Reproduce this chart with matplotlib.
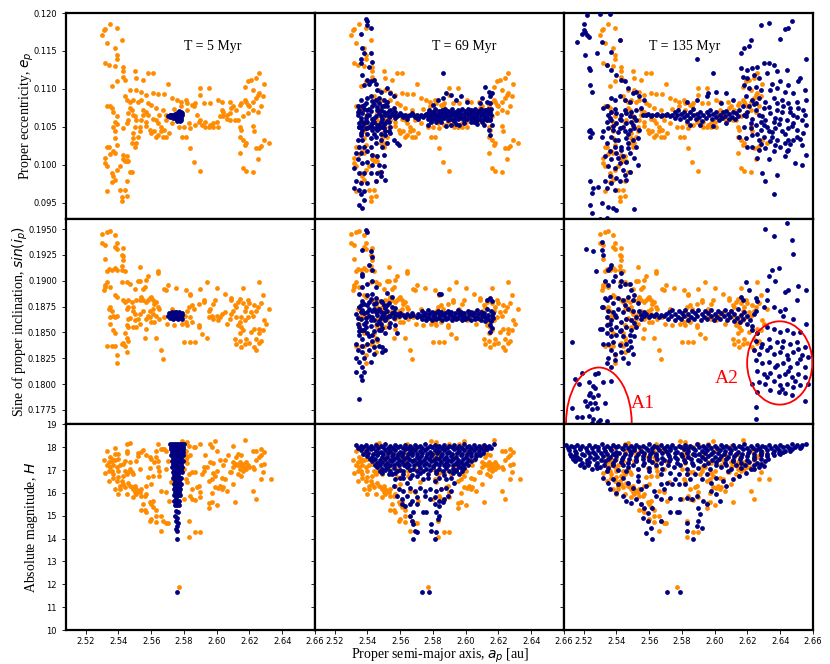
import matplotlib
matplotlib.use('Agg')
import matplotlib.pyplot as plt
from matplotlib.patches import Ellipse

# column titles
times = ['T = 5 Myr', 'T = 69 Myr', 'T = 135 Myr']

# ---------------- original family (orange), same in every column ----------------
orange_ecc = [
    (2.530, 0.1171), (2.531, 0.1177), (2.532, 0.1179), (2.535, 0.1186), (2.539, 0.1180), (2.533, 0.1160),
    (2.532, 0.1134), (2.534, 0.1132), (2.538, 0.1130), (2.539, 0.1145), (2.539, 0.1140), (2.538, 0.1154),
    (2.542, 0.1165), (2.543, 0.1129), (2.543, 0.1123), (2.543, 0.1116), (2.544, 0.1112), (2.536, 0.1104),
    (2.539, 0.1110), (2.550, 0.1123), (2.551, 0.1114), (2.555, 0.1112), (2.558, 0.1121), (2.561, 0.1121),
    (2.570, 0.1107), (2.533, 0.1078), (2.535, 0.1077), (2.536, 0.1075), (2.537, 0.1070), (2.539, 0.1064),
    (2.538, 0.1057), (2.539, 0.1054), (2.537, 0.1050), (2.538, 0.1044), (2.538, 0.1035), (2.539, 0.1026),
    (2.537, 0.1018), (2.538, 0.1016), (2.535, 0.1014), (2.534, 0.1024), (2.533, 0.1023), (2.532, 0.1009),
    (2.532, 0.1002), (2.533, 0.0998), (2.536, 0.0989), (2.537, 0.0985), (2.538, 0.0980), (2.536, 0.0977),
    (2.533, 0.0966), (2.539, 0.0993), (2.541, 0.0998), (2.543, 0.1007), (2.543, 0.1013), (2.545, 0.1011),
    (2.544, 0.1005), (2.545, 0.1005), (2.546, 0.1005), (2.547, 0.0990), (2.545, 0.0978), (2.548, 0.0991),
    (2.541, 0.0967), (2.544, 0.0967), (2.542, 0.0958), (2.542, 0.0952), (2.545, 0.0959), (2.543, 0.1048),
    (2.545, 0.1055), (2.546, 0.1059), (2.546, 0.1068), (2.547, 0.1075), (2.548, 0.1072), (2.549, 0.1066),
    (2.550, 0.1064), (2.551, 0.1059), (2.550, 0.1050), (2.549, 0.1042), (2.549, 0.1035), (2.548, 0.1029),
    (2.550, 0.1024), (2.551, 0.1029), (2.552, 0.1037), (2.553, 0.1044), (2.553, 0.1050), (2.554, 0.1059),
    (2.555, 0.1066), (2.555, 0.1072), (2.557, 0.1070), (2.558, 0.1066), (2.557, 0.1057), (2.557, 0.1051),
    (2.559, 0.1046), (2.560, 0.1042), (2.562, 0.1044), (2.563, 0.1037), (2.564, 0.1039), (2.561, 0.1061),
    (2.563, 0.1059), (2.564, 0.1055), (2.566, 0.1050), (2.565, 0.1066), (2.567, 0.1072), (2.569, 0.1066),
    (2.569, 0.1059), (2.568, 0.1046), (2.567, 0.1037), (2.566, 0.1044), (2.563, 0.1075), (2.560, 0.1079),
    (2.558, 0.1081), (2.554, 0.1086), (2.552, 0.1083), (2.549, 0.1086), (2.547, 0.1083), (2.545, 0.1086),
    (2.544, 0.1090), (2.547, 0.1098), (2.551, 0.1099), (2.554, 0.1096), (2.557, 0.1092), (2.561, 0.1094),
    (2.564, 0.1093), (2.568, 0.1093), (2.573, 0.1088), (2.576, 0.1086), (2.578, 0.1083), (2.581, 0.1086),
    (2.582, 0.1081), (2.585, 0.1079), (2.587, 0.1081), (2.590, 0.1092), (2.592, 0.1081), (2.595, 0.1101),
    (2.596, 0.1082), (2.580, 0.1050), (2.583, 0.1055), (2.584, 0.1048), (2.587, 0.1053), (2.588, 0.1066),
    (2.590, 0.1059), (2.593, 0.1057), (2.596, 0.1053), (2.598, 0.1055), (2.600, 0.1057), (2.602, 0.1064),
    (2.603, 0.1072), (2.604, 0.1070), (2.606, 0.1066), (2.608, 0.1068), (2.609, 0.1075), (2.610, 0.1077),
    (2.612, 0.1072), (2.614, 0.1079), (2.615, 0.1081), (2.617, 0.1086), (2.618, 0.1083), (2.619, 0.1079),
    (2.620, 0.1077), (2.622, 0.1083), (2.624, 0.1088), (2.625, 0.1092), (2.626, 0.1094), (2.628, 0.1090),
    (2.627, 0.1077), (2.625, 0.1070), (2.622, 0.1072), (2.619, 0.1068), (2.616, 0.1064), (2.613, 0.1059),
    (2.614, 0.1050), (2.615, 0.1046), (2.611, 0.1059), (2.608, 0.1059), (2.606, 0.1061), (2.604, 0.1064),
    (2.601, 0.1050), (2.598, 0.1050), (2.595, 0.1050), (2.593, 0.1050), (2.591, 0.1053), (2.589, 0.1056),
    (2.581, 0.1037), (2.579, 0.1037), (2.584, 0.1022), (2.586, 0.1004), (2.590, 0.0992), (2.614, 0.1037),
    (2.616, 0.1033), (2.617, 0.1026), (2.618, 0.1029), (2.614, 0.1015), (2.616, 0.0996), (2.618, 0.0992),
    (2.622, 0.0991), (2.625, 0.1007), (2.624, 0.1022), (2.626, 0.1022), (2.627, 0.1025), (2.629, 0.1033),
    (2.632, 0.1029), (2.622, 0.1051), (2.623, 0.1044), (2.617, 0.1103), (2.619, 0.1110), (2.621, 0.1112),
    (2.622, 0.1098), (2.624, 0.1114), (2.626, 0.1121), (2.629, 0.1107), (2.608, 0.1083), (2.601, 0.1086),
    (2.603, 0.1083), (2.590, 0.1101), (2.586, 0.1077), (2.582, 0.1072), (2.578, 0.1077), (2.574, 0.1073),
    (2.573, 0.1055), (2.571, 0.1042), (2.569, 0.1037), (2.577, 0.1050),
]

orange_sin = [
    (2.530, 0.1945), (2.533, 0.1947), (2.535, 0.1948), (2.538, 0.1944), (2.530, 0.1936), (2.532, 0.1935),
    (2.539, 0.1936), (2.538, 0.1933), (2.539, 0.1931), (2.543, 0.1932), (2.542, 0.1925), (2.543, 0.1924),
    (2.543, 0.1920), (2.532, 0.1921), (2.538, 0.1912), (2.533, 0.1909), (2.534, 0.1911), (2.536, 0.1910),
    (2.539, 0.1910), (2.542, 0.1910), (2.544, 0.1909), (2.542, 0.1914), (2.553, 0.1913), (2.564, 0.1909),
    (2.564, 0.1907), (2.558, 0.1905), (2.557, 0.1901), (2.552, 0.1900), (2.553, 0.1900), (2.542, 0.1899),
    (2.545, 0.1899), (2.533, 0.1899), (2.532, 0.1896), (2.531, 0.1891), (2.532, 0.1894), (2.535, 0.1894),
    (2.538, 0.1886), (2.539, 0.1884), (2.555, 0.1892), (2.556, 0.1894), (2.550, 0.1892), (2.547, 0.1897),
    (2.569, 0.1891), (2.568, 0.1892), (2.570, 0.1896), (2.575, 0.1893), (2.581, 0.1891), (2.584, 0.1886),
    (2.584, 0.1887), (2.590, 0.1892), (2.594, 0.1899), (2.600, 0.1893), (2.605, 0.1887), (2.609, 0.1883),
    (2.609, 0.1881), (2.616, 0.1893), (2.626, 0.1899), (2.628, 0.1886), (2.623, 0.1876), (2.627, 0.1878),
    (2.632, 0.1873), (2.534, 0.1873), (2.535, 0.1875), (2.536, 0.1871), (2.537, 0.1866), (2.538, 0.1865),
    (2.539, 0.1866), (2.535, 0.1865), (2.535, 0.1858), (2.537, 0.1852), (2.538, 0.1849), (2.533, 0.1837),
    (2.536, 0.1837), (2.538, 0.1837), (2.539, 0.1828), (2.539, 0.1820), (2.542, 0.1839), (2.543, 0.1840),
    (2.544, 0.1837), (2.545, 0.1831), (2.546, 0.1842), (2.544, 0.1849), (2.545, 0.1845), (2.546, 0.1855),
    (2.545, 0.1857), (2.546, 0.1863), (2.547, 0.1864), (2.543, 0.1881), (2.544, 0.1879), (2.546, 0.1881),
    (2.546, 0.1875), (2.545, 0.1873), (2.548, 0.1879), (2.549, 0.1875), (2.550, 0.1868), (2.549, 0.1871),
    (2.551, 0.1881), (2.553, 0.1881), (2.554, 0.1884), (2.555, 0.1881), (2.557, 0.1879), (2.558, 0.1881),
    (2.559, 0.1883), (2.560, 0.1884), (2.561, 0.1881), (2.562, 0.1877), (2.563, 0.1879), (2.564, 0.1875),
    (2.565, 0.1873), (2.561, 0.1873), (2.559, 0.1871), (2.555, 0.1871), (2.553, 0.1868), (2.552, 0.1863),
    (2.550, 0.1862), (2.549, 0.1855), (2.551, 0.1855), (2.553, 0.1858), (2.557, 0.1863), (2.558, 0.1866),
    (2.559, 0.1865), (2.561, 0.1868), (2.563, 0.1866), (2.565, 0.1863), (2.562, 0.1860), (2.560, 0.1860),
    (2.557, 0.1853), (2.556, 0.1845), (2.563, 0.1845), (2.566, 0.1833), (2.567, 0.1824), (2.568, 0.1865),
    (2.5695, 0.1858), (2.573, 0.1873), (2.574, 0.1857), (2.579, 0.1858), (2.581, 0.1860), (2.5805, 0.1866),
    (2.582, 0.1871), (2.583, 0.1875), (2.585, 0.1876), (2.586, 0.1873), (2.584, 0.1865), (2.585, 0.1860),
    (2.582, 0.1857), (2.580, 0.1841), (2.584, 0.1841), (2.587, 0.1841), (2.591, 0.1848), (2.594, 0.1845),
    (2.589, 0.1857), (2.589, 0.1855), (2.589, 0.1877), (2.592, 0.1879), (2.592, 0.1881), (2.595, 0.1871),
    (2.596, 0.1873), (2.598, 0.1877), (2.599, 0.1881), (2.597, 0.1866), (2.595, 0.1865), (2.598, 0.1863),
    (2.600, 0.1866), (2.602, 0.1865), (2.601, 0.1862), (2.603, 0.1868), (2.605, 0.1870), (2.606, 0.1858),
    (2.608, 0.1863), (2.609, 0.1868), (2.610, 0.1871), (2.611, 0.1876), (2.612, 0.1875), (2.613, 0.1879),
    (2.614, 0.1882), (2.616, 0.1878), (2.617, 0.1871), (2.618, 0.1875), (2.619, 0.1881), (2.620, 0.1878),
    (2.621, 0.1870), (2.622, 0.1866), (2.624, 0.1871), (2.625, 0.1875), (2.619, 0.1865), (2.617, 0.1862),
    (2.615, 0.1865), (2.614, 0.1860), (2.613, 0.1857), (2.612, 0.1865), (2.615, 0.1855), (2.616, 0.1852),
    (2.614, 0.1849), (2.611, 0.1844), (2.612, 0.1839), (2.614, 0.1842), (2.615, 0.1836), (2.617, 0.1839),
    (2.618, 0.1844), (2.620, 0.1840), (2.621, 0.1850), (2.623, 0.1853), (2.624, 0.1844), (2.626, 0.1849),
    (2.623, 0.1836), (2.624, 0.1833), (2.626, 0.1840), (2.627, 0.1842), (2.629, 0.1862), (2.630, 0.1858),
    (2.626, 0.1853), (2.628, 0.1852),
]

orange_mag = [
    (2.533, 17.82), (2.538, 17.97), (2.545, 18.12), (2.547, 18.17), (2.545, 17.85), (2.545, 17.74),
    (2.538, 17.71), (2.540, 17.71), (2.535, 17.56), (2.536, 17.49), (2.531, 17.42), (2.534, 17.34),
    (2.536, 17.39), (2.538, 17.45), (2.540, 17.49), (2.533, 17.20), (2.535, 17.15), (2.537, 17.20),
    (2.539, 17.12), (2.532, 16.86), (2.534, 16.95), (2.536, 16.98), (2.537, 16.83), (2.540, 16.98),
    (2.541, 17.20), (2.543, 17.27), (2.544, 16.98), (2.545, 16.83), (2.543, 16.76), (2.546, 16.91),
    (2.547, 17.05), (2.548, 16.91), (2.549, 16.83), (2.547, 17.34), (2.544, 17.39), (2.534, 16.51),
    (2.537, 16.66), (2.539, 16.54), (2.540, 16.69), (2.542, 16.54), (2.543, 16.39), (2.541, 16.32),
    (2.544, 16.25), (2.546, 16.42), (2.547, 16.32), (2.548, 16.25), (2.549, 16.18), (2.550, 16.32),
    (2.551, 16.18), (2.552, 16.10), (2.553, 16.03), (2.554, 16.18), (2.550, 16.03), (2.551, 15.96),
    (2.549, 15.81), (2.554, 15.88), (2.545, 15.96), (2.540, 15.96), (2.541, 16.18), (2.538, 16.18),
    (2.556, 15.88), (2.557, 15.96), (2.555, 15.52), (2.559, 15.59), (2.560, 15.52), (2.561, 15.66),
    (2.554, 15.23), (2.556, 15.26), (2.557, 15.15), (2.561, 15.37), (2.563, 15.23), (2.559, 14.79),
    (2.560, 14.86), (2.563, 14.72), (2.563, 15.01), (2.566, 15.01), (2.567, 14.79), (2.570, 14.67),
    (2.566, 14.35), (2.569, 14.69), (2.571, 15.66), (2.566, 16.10), (2.569, 16.03), (2.560, 16.39),
    (2.557, 16.32), (2.558, 16.69), (2.561, 16.76), (2.565, 16.76), (2.565, 16.98), (2.564, 17.12),
    (2.562, 17.34), (2.564, 17.39), (2.563, 17.56), (2.559, 17.56), (2.560, 17.49), (2.557, 17.64),
    (2.554, 17.78), (2.555, 17.88), (2.552, 17.74), (2.552, 17.61), (2.551, 17.39), (2.553, 17.05),
    (2.559, 17.09), (2.563, 17.85), (2.564, 18.15), (2.566, 17.93), (2.567, 17.93), (2.569, 17.85),
    (2.568, 17.93), (2.572, 16.47), (2.569, 17.05), (2.570, 17.39),
    (2.579, 18.26), (2.582, 18.22), (2.583, 18.07), (2.581, 17.85), (2.5805, 17.64), (2.581, 17.49),
    (2.582, 17.56), (2.584, 17.64), (2.586, 18.00), (2.587, 18.03), (2.590, 18.12), (2.593, 17.64),
    (2.597, 18.00), (2.599, 18.26), (2.596, 18.12), (2.600, 17.85), (2.582, 17.30), (2.580, 17.05),
    (2.583, 16.83), (2.585, 16.91), (2.587, 16.91), (2.581, 16.61), (2.582, 16.47), (2.585, 16.18),
    (2.588, 16.25), (2.589, 16.28), (2.590, 16.03), (2.584, 15.88), (2.585, 15.74), (2.587, 15.69),
    (2.590, 15.84), (2.580, 15.74), (2.583, 14.76), (2.583, 14.09), (2.587, 14.31), (2.590, 14.31),
    (2.595, 16.54), (2.597, 16.61), (2.599, 16.76), (2.598, 16.86), (2.600, 16.98), (2.592, 17.12),
    (2.594, 17.15), (2.596, 17.34), (2.598, 17.30), (2.602, 17.42), (2.604, 17.20), (2.605, 17.42),
    (2.591, 16.83), (2.592, 16.98), (2.599, 16.25), (2.601, 16.22), (2.602, 16.32), (2.603, 16.18),
    (2.604, 16.25), (2.606, 16.10), (2.597, 15.99), (2.595, 15.55), (2.597, 15.59), (2.600, 15.49),
    (2.595, 15.34), (2.603, 16.66), (2.605, 16.61), (2.607, 17.64), (2.610, 18.07), (2.608, 16.91),
    (2.610, 16.39), (2.611, 15.59), (2.612, 17.56), (2.613, 17.71), (2.615, 17.64), (2.617, 18.32),
    (2.610, 17.34), (2.611, 17.20), (2.612, 17.27), (2.613, 17.20), (2.614, 17.34), (2.615, 17.20),
    (2.616, 17.27), (2.617, 17.15), (2.618, 17.34), (2.619, 17.23), (2.614, 17.05), (2.616, 16.98),
    (2.609, 16.91), (2.610, 17.12), (2.613, 16.83), (2.615, 16.76), (2.618, 17.05), (2.620, 17.12),
    (2.622, 17.15), (2.623, 17.05), (2.622, 17.85), (2.624, 17.85), (2.627, 17.93), (2.629, 17.78),
    (2.626, 17.56), (2.627, 17.64), (2.624, 17.42), (2.627, 17.23), (2.629, 17.27), (2.628, 16.91),
    (2.627, 16.61), (2.633, 16.61), (2.622, 16.10), (2.624, 15.74), (2.616, 17.15), (2.577, 11.87),
]

# ---------------- T = 5 Myr (navy) ----------------
blue5_ecc = [
    (2.5705, 0.1064), (2.5712, 0.1065), (2.5718, 0.1063), (2.5722, 0.1066), (2.5728, 0.1064), (2.5733, 0.1062),
    (2.5736, 0.1066), (2.5741, 0.1064), (2.5745, 0.1067), (2.5748, 0.1062), (2.5752, 0.1065), (2.5756, 0.1068),
    (2.5758, 0.1060), (2.5762, 0.1063), (2.5765, 0.1066), (2.5768, 0.1069), (2.5771, 0.1061), (2.5774, 0.1064),
    (2.5777, 0.1067), (2.5780, 0.1059), (2.5782, 0.1070), (2.5785, 0.1062), (2.5787, 0.1065), (2.5790, 0.1068),
    (2.5760, 0.1058), (2.5778, 0.1058), (2.5770, 0.1071),
]
blue5_sin = [
    (2.5705, 0.1866), (2.5710, 0.1869), (2.5715, 0.1864), (2.5720, 0.1867), (2.5726, 0.1865), (2.5731, 0.1869),
    (2.5735, 0.1863), (2.5740, 0.1867), (2.5745, 0.1870), (2.5749, 0.1864), (2.5754, 0.1866), (2.5758, 0.1869),
    (2.5762, 0.1863), (2.5766, 0.1867), (2.5770, 0.1870), (2.5774, 0.1865), (2.5778, 0.1868), (2.5782, 0.1864),
    (2.5786, 0.1867), (2.5790, 0.1869), (2.5788, 0.1863), (2.5752, 0.1870), (2.5728, 0.1870),
]
blue5_mag = [
    (2.5718, 18.15), (2.5730, 18.15), (2.5742, 18.15), (2.5754, 18.15), (2.5766, 18.15), (2.5778, 18.15),
    (2.5790, 18.15), (2.5801, 18.15), (2.5720, 17.90), (2.5732, 17.90), (2.5745, 17.90), (2.5758, 17.90),
    (2.5771, 17.90), (2.5784, 17.90), (2.5797, 17.90), (2.5723, 17.65), (2.5736, 17.65), (2.5749, 17.65),
    (2.5762, 17.65), (2.5775, 17.65), (2.5788, 17.65), (2.5797, 17.65), (2.5727, 17.40), (2.5740, 17.40),
    (2.5753, 17.40), (2.5766, 17.40), (2.5779, 17.40), (2.5792, 17.40), (2.5730, 17.15), (2.5743, 17.15),
    (2.5756, 17.15), (2.5769, 17.15), (2.5782, 17.15), (2.5791, 17.15), (2.5733, 16.90), (2.5746, 16.90),
    (2.5759, 16.90), (2.5772, 16.90), (2.5786, 16.90), (2.5735, 16.65), (2.5748, 16.65), (2.5761, 16.65),
    (2.5774, 16.65), (2.5784, 16.65), (2.5737, 16.40), (2.5750, 16.40), (2.5763, 16.40), (2.5776, 16.40),
    (2.5782, 16.40), (2.5739, 16.15), (2.5752, 16.15), (2.5765, 16.15), (2.5778, 16.15), (2.5741, 15.90),
    (2.5755, 15.90), (2.5768, 15.90), (2.5777, 15.90), (2.5742, 15.65), (2.5757, 15.65), (2.5770, 15.65),
    (2.5744, 15.45), (2.5758, 15.45), (2.5772, 15.45), (2.5750, 15.20), (2.5762, 15.15), (2.5748, 15.00),
    (2.5760, 14.90), (2.5752, 14.75), (2.5765, 14.70), (2.5755, 14.55), (2.5750, 14.40), (2.5760, 14.35),
    (2.5757, 14.00), (2.5758, 11.68),
    (2.5724, 18.02), (2.5748, 18.02), (2.5772, 18.02), (2.5796, 18.02), (2.5728, 17.77), (2.5752, 17.77),
    (2.5776, 17.77), (2.5793, 17.77), (2.5732, 17.52), (2.5756, 17.52), (2.5780, 17.52), (2.5736, 17.27),
    (2.5760, 17.27), (2.5784, 17.27), (2.5740, 17.02), (2.5764, 17.02), (2.5781, 17.02), (2.5742, 16.77),
    (2.5766, 16.77), (2.5745, 16.52), (2.5768, 16.52), (2.5746, 16.27), (2.5770, 16.27), (2.5748, 16.02),
    (2.5771, 16.02), (2.5750, 15.77), (2.5764, 15.55),
]

# ---------------- T = 69 Myr (navy) ----------------
blue69_ecc = [
    (2.539, 0.1192), (2.540, 0.1189), (2.540, 0.1184), (2.536, 0.1173), (2.542, 0.1180), (2.537, 0.1154),
    (2.538, 0.1147), (2.542, 0.1147), (2.536, 0.1139), (2.536, 0.1134), (2.543, 0.1135), (2.541, 0.1129),
    (2.537, 0.1118), (2.540, 0.1112), (2.541, 0.1107), (2.542, 0.1110), (2.538, 0.1105), (2.544, 0.1112),
    (2.545, 0.1107), (2.546, 0.1099), (2.548, 0.1096), (2.552, 0.1101), (2.554, 0.1094), (2.556, 0.1090),
    (2.536, 0.1086), (2.540, 0.1088), (2.542, 0.1090), (2.545, 0.1086), (2.547, 0.1081), (2.550, 0.1086),
    (2.552, 0.1083), (2.537, 0.1077), (2.534, 0.1077), (2.535, 0.1072), (2.540, 0.1072), (2.543, 0.1077),
    (2.546, 0.1072), (2.549, 0.1077), (2.552, 0.1077), (2.554, 0.1072), (2.556, 0.1075),
    (2.534, 0.1065), (2.537, 0.1068), (2.539, 0.1062), (2.541, 0.1066), (2.543, 0.1060), (2.545, 0.1064),
    (2.547, 0.1068), (2.549, 0.1061), (2.551, 0.1066), (2.553, 0.1063), (2.555, 0.1067), (2.536, 0.1058),
    (2.538, 0.1055), (2.540, 0.1057), (2.542, 0.1053), (2.544, 0.1056), (2.546, 0.1052), (2.548, 0.1057),
    (2.550, 0.1054), (2.552, 0.1058), (2.535, 0.1050), (2.539, 0.1048), (2.543, 0.1046), (2.547, 0.1049),
    (2.551, 0.1045), (2.554, 0.1050), (2.538, 0.1079), (2.541, 0.1074), (2.544, 0.1080), (2.548, 0.1072),
    (2.550, 0.1070), (2.553, 0.1071), (2.557, 0.1069),
    (2.534, 0.1070), (2.536, 0.1062), (2.538, 0.1073), (2.540, 0.1065), (2.542, 0.1071), (2.544, 0.1062),
    (2.546, 0.1076), (2.548, 0.1064), (2.550, 0.1077), (2.552, 0.1068), (2.554, 0.1064), (2.556, 0.1070),
    (2.535, 0.1055), (2.537, 0.1051), (2.539, 0.1058), (2.541, 0.1050), (2.543, 0.1055), (2.545, 0.1049),
    (2.547, 0.1053), (2.549, 0.1050), (2.551, 0.1055), (2.553, 0.1056), (2.536, 0.1042), (2.540, 0.1040),
    (2.544, 0.1041), (2.548, 0.1040), (2.539, 0.1082), (2.543, 0.1084), (2.547, 0.1088), (2.551, 0.1079),
    (2.535, 0.1050), (2.537, 0.1046), (2.540, 0.1048), (2.543, 0.1050), (2.546, 0.1046), (2.550, 0.1048),
    (2.553, 0.1044), (2.536, 0.1039), (2.534, 0.1033), (2.537, 0.1033), (2.542, 0.1035), (2.545, 0.1037),
    (2.548, 0.1033), (2.551, 0.1039), (2.554, 0.1042), (2.556, 0.1033), (2.558, 0.1029), (2.559, 0.1026),
    (2.535, 0.1024), (2.538, 0.1024), (2.542, 0.1024), (2.545, 0.1029), (2.549, 0.1024), (2.552, 0.1029),
    (2.533, 0.1015), (2.536, 0.1015), (2.540, 0.1018), (2.543, 0.1013), (2.546, 0.1011), (2.550, 0.1013),
    (2.534, 0.1007), (2.537, 0.1002), (2.540, 0.1004), (2.543, 0.1000), (2.547, 0.1000), (2.550, 0.0998),
    (2.532, 0.0996), (2.535, 0.0989), (2.538, 0.0989), (2.542, 0.0989), (2.546, 0.0989), (2.548, 0.0991),
    (2.551, 0.0980), (2.533, 0.0978), (2.536, 0.0976), (2.540, 0.0976), (2.545, 0.0978), (2.548, 0.0985),
    (2.532, 0.0969), (2.535, 0.0967), (2.538, 0.0965), (2.536, 0.0961), (2.538, 0.0954), (2.535, 0.0947),
    (2.537, 0.0943),
    (2.556, 0.1065), (2.558, 0.1064), (2.559, 0.1066), (2.561, 0.1065), (2.562, 0.1063), (2.563, 0.1066),
    (2.565, 0.1064), (2.566, 0.1066), (2.568, 0.1065), (2.569, 0.1063), (2.570, 0.1066), (2.572, 0.1064),
    (2.573, 0.1066), (2.574, 0.1063), (2.575, 0.1065), (2.576, 0.1067), (2.557, 0.1062), (2.560, 0.1068),
    (2.564, 0.1061), (2.567, 0.1068), (2.571, 0.1061),
    (2.5770, 0.1060), (2.5772, 0.1064), (2.5768, 0.1068), (2.5775, 0.1072), (2.5790, 0.1058), (2.5792, 0.1062),
    (2.5788, 0.1066), (2.5795, 0.1070), (2.5810, 0.1061), (2.5812, 0.1065), (2.5808, 0.1069), (2.5815, 0.1073),
    (2.5830, 0.1059), (2.5832, 0.1063), (2.5828, 0.1067), (2.5835, 0.1071), (2.5850, 0.1060), (2.5852, 0.1064),
    (2.5848, 0.1068), (2.5855, 0.1072), (2.5870, 0.1062), (2.5872, 0.1066), (2.5868, 0.1070), (2.5875, 0.1074),
    (2.5890, 0.1059), (2.5892, 0.1063), (2.5888, 0.1067), (2.5895, 0.1071), (2.5910, 0.1061), (2.5912, 0.1065),
    (2.5908, 0.1069), (2.5915, 0.1073), (2.5930, 0.1058), (2.5932, 0.1062), (2.5928, 0.1066), (2.5935, 0.1070),
    (2.5950, 0.1060), (2.5952, 0.1064), (2.5948, 0.1068), (2.5955, 0.1072), (2.5970, 0.1062), (2.5972, 0.1066),
    (2.5968, 0.1070), (2.5975, 0.1074), (2.5990, 0.1059), (2.5992, 0.1063), (2.5988, 0.1067), (2.5995, 0.1071),
    (2.6010, 0.1061), (2.6012, 0.1065), (2.6008, 0.1069), (2.6015, 0.1073), (2.6030, 0.1060), (2.6032, 0.1064),
    (2.6028, 0.1068), (2.6035, 0.1072), (2.6050, 0.1062), (2.6052, 0.1066), (2.6048, 0.1070), (2.6055, 0.1074),
    (2.6070, 0.1059), (2.6072, 0.1063), (2.6068, 0.1067), (2.6075, 0.1071), (2.6090, 0.1061), (2.6092, 0.1065),
    (2.6088, 0.1069), (2.6095, 0.1073), (2.6110, 0.1060), (2.6112, 0.1064), (2.6108, 0.1068), (2.6115, 0.1072),
    (2.6130, 0.1062), (2.6132, 0.1066), (2.6128, 0.1070), (2.6135, 0.1074), (2.6150, 0.1061), (2.6152, 0.1065),
    (2.6148, 0.1069), (2.6155, 0.1073),
    (2.612, 0.1103), (2.614, 0.1096), (2.615, 0.1090), (2.616, 0.1094), (2.610, 0.1088), (2.613, 0.1083),
    (2.615, 0.1081), (2.609, 0.1081), (2.615, 0.1059), (2.616, 0.1053), (2.614, 0.1046), (2.615, 0.1039),
    (2.613, 0.1059), (2.610, 0.1057), (2.611, 0.1053), (2.607, 0.1054), (2.605, 0.1057), (2.603, 0.1056),
    (2.599, 0.1055), (2.596, 0.1053), (2.594, 0.1054), (2.591, 0.1053), (2.588, 0.1051), (2.585, 0.1056),
    (2.582, 0.1057), (2.579, 0.1057), (2.577, 0.1053), (2.586, 0.1121), (2.588, 0.1094), (2.591, 0.1092),
    (2.594, 0.1086), (2.597, 0.1090), (2.601, 0.1083), (2.586, 0.1088), (2.583, 0.1086), (2.580, 0.1079),
]
blue69_sin = [
    (2.539, 0.1949), (2.540, 0.1947), (2.537, 0.1930), (2.542, 0.1929), (2.543, 0.1923), (2.541, 0.1915),
    (2.543, 0.1910), (2.537, 0.1905), (2.537, 0.1906), (2.543, 0.1900), (2.540, 0.1897), (2.545, 0.1894),
    (2.537, 0.1894), (2.535, 0.1887), (2.543, 0.1887), (2.540, 0.1886), (2.552, 0.1888), (2.555, 0.1884),
    (2.585, 0.1887),
    (2.533, 0.1868), (2.534, 0.1858), (2.535, 0.1875), (2.536, 0.1863), (2.537, 0.1880), (2.537, 0.1852),
    (2.538, 0.1869), (2.539, 0.1860), (2.540, 0.1876), (2.540, 0.1849), (2.541, 0.1866), (2.542, 0.1856),
    (2.542, 0.1882), (2.543, 0.1871), (2.544, 0.1862), (2.544, 0.1851), (2.545, 0.1878), (2.546, 0.1867),
    (2.546, 0.1858), (2.547, 0.1873), (2.548, 0.1864), (2.548, 0.1880), (2.549, 0.1854), (2.550, 0.1869),
    (2.550, 0.1876), (2.551, 0.1862), (2.552, 0.1871), (2.553, 0.1866), (2.553, 0.1878), (2.554, 0.1859),
    (2.555, 0.1869), (2.556, 0.1864), (2.557, 0.1874), (2.557, 0.1867), (2.538, 0.1877), (2.541, 0.1873),
    (2.543, 0.1865), (2.545, 0.1870), (2.547, 0.1861), (2.549, 0.1866), (2.551, 0.1874), (2.539, 0.1864),
    (2.544, 0.1873), (2.536, 0.1870), (2.548, 0.1870), (2.552, 0.1865), (2.555, 0.1875),
    (2.534, 0.1864), (2.536, 0.1876), (2.538, 0.1858), (2.540, 0.1870), (2.542, 0.1862), (2.544, 0.1877),
    (2.546, 0.1871), (2.548, 0.1858), (2.550, 0.1865), (2.552, 0.1876), (2.554, 0.1866), (2.556, 0.1870),
    (2.535, 0.1851), (2.539, 0.1855), (2.543, 0.1847), (2.547, 0.1852), (2.541, 0.1879), (2.545, 0.1883),
    (2.549, 0.1879), (2.537, 0.1872),
    (2.535, 0.1847), (2.537, 0.1844), (2.541, 0.1846), (2.543, 0.1842), (2.546, 0.1844), (2.533, 0.1839),
    (2.537, 0.1837), (2.540, 0.1839), (2.544, 0.1836), (2.547, 0.1837), (2.534, 0.1833), (2.537, 0.1831),
    (2.541, 0.1833), (2.544, 0.1829), (2.549, 0.1831), (2.533, 0.1825), (2.535, 0.1821), (2.538, 0.1825),
    (2.542, 0.1821), (2.537, 0.1816), (2.538, 0.1812), (2.536, 0.1808), (2.537, 0.1804), (2.533, 0.1812),
    (2.535, 0.1786), (2.549, 0.1836), (2.551, 0.1833), (2.538, 0.1852), (2.535, 0.1855), (2.548, 0.1852),
    (2.553, 0.1855), (2.557, 0.1857), (2.558, 0.1849), (2.551, 0.1849),
    (2.558, 0.1868), (2.559, 0.1866), (2.560, 0.1869), (2.562, 0.1867), (2.563, 0.1865), (2.564, 0.1868),
    (2.566, 0.1866), (2.567, 0.1869), (2.568, 0.1867), (2.570, 0.1865), (2.571, 0.1868), (2.572, 0.1866),
    (2.5735, 0.1863), (2.5738, 0.1867), (2.5732, 0.1871), (2.5755, 0.1865), (2.5752, 0.1869), (2.5758, 0.1862),
    (2.5775, 0.1864), (2.5778, 0.1868), (2.5772, 0.1872), (2.5795, 0.1862), (2.5798, 0.1866), (2.5792, 0.1870),
    (2.5815, 0.1865), (2.5812, 0.1869), (2.5818, 0.1863), (2.5835, 0.1864), (2.5838, 0.1868), (2.5832, 0.1871),
    (2.5855, 0.1862), (2.5858, 0.1867), (2.5852, 0.1870), (2.5875, 0.1865), (2.5872, 0.1869), (2.5878, 0.1863),
    (2.5895, 0.1864), (2.5898, 0.1868), (2.5892, 0.1871), (2.5915, 0.1862), (2.5918, 0.1866), (2.5912, 0.1870),
    (2.5935, 0.1865), (2.5932, 0.1869), (2.5938, 0.1863), (2.5955, 0.1864), (2.5958, 0.1868), (2.5952, 0.1872),
    (2.5975, 0.1862), (2.5978, 0.1866), (2.5972, 0.1870), (2.5995, 0.1865), (2.5992, 0.1869), (2.5998, 0.1863),
    (2.6015, 0.1864), (2.6018, 0.1868), (2.6012, 0.1871), (2.6035, 0.1862), (2.6038, 0.1867), (2.6032, 0.1870),
    (2.6055, 0.1865), (2.6052, 0.1869), (2.6058, 0.1863), (2.6075, 0.1864), (2.6078, 0.1868), (2.6072, 0.1872),
    (2.6095, 0.1862), (2.6098, 0.1866), (2.6092, 0.1870), (2.6115, 0.1865), (2.6112, 0.1869), (2.6118, 0.1861),
    (2.6135, 0.1863), (2.6138, 0.1867), (2.6132, 0.1873), (2.6155, 0.1861), (2.6158, 0.1866), (2.6152, 0.1871),
    (2.6165, 0.1864), (2.6168, 0.1869),
    (2.615, 0.1883), (2.613, 0.1881), (2.616, 0.1880), (2.615, 0.1857), (2.616, 0.1854), (2.615, 0.1850),
    (2.584, 0.1887),
]
blue69_mag = [
    (2.533, 18.10), (2.536, 18.06), (2.539, 18.11), (2.542, 18.05), (2.545, 18.10), (2.548, 18.07),
    (2.551, 18.12), (2.554, 18.05), (2.557, 18.10), (2.560, 18.06), (2.563, 18.11), (2.566, 18.05),
    (2.569, 18.10), (2.572, 18.07), (2.575, 18.12), (2.578, 18.05), (2.581, 18.10), (2.584, 18.06),
    (2.587, 18.11), (2.590, 18.05), (2.593, 18.10), (2.596, 18.07), (2.599, 18.12), (2.602, 18.05),
    (2.605, 18.10), (2.608, 18.06), (2.611, 18.11), (2.614, 18.07), (2.617, 18.12),
    (2.5345, 17.97), (2.5375, 17.99), (2.5405, 17.95), (2.5435, 17.98), (2.5465, 17.96), (2.5495, 17.99),
    (2.5525, 17.95), (2.5555, 17.97), (2.5585, 17.99), (2.5615, 17.95), (2.5645, 17.98), (2.5675, 17.96),
    (2.5705, 17.99), (2.5735, 17.95), (2.5765, 17.97), (2.5795, 17.99), (2.5825, 17.95), (2.5855, 17.98),
    (2.5885, 17.96), (2.5915, 17.99), (2.5945, 17.95), (2.5975, 17.97), (2.6005, 17.99), (2.6035, 17.95),
    (2.6065, 17.98), (2.6095, 17.96), (2.6125, 17.99), (2.6155, 17.97),
    (2.536, 17.88), (2.539, 17.82), (2.542, 17.90), (2.545, 17.84), (2.548, 17.80), (2.551, 17.89),
    (2.554, 17.83), (2.557, 17.87), (2.560, 17.81), (2.563, 17.90), (2.566, 17.84), (2.569, 17.88),
    (2.572, 17.82), (2.575, 17.86), (2.578, 17.80), (2.581, 17.89), (2.584, 17.83), (2.587, 17.87),
    (2.590, 17.81), (2.593, 17.90), (2.596, 17.84), (2.599, 17.88), (2.602, 17.82), (2.605, 17.86),
    (2.608, 17.84), (2.611, 17.89), (2.613, 17.92),
    (2.5375, 17.72), (2.5405, 17.74), (2.5435, 17.70), (2.5465, 17.73), (2.5495, 17.71), (2.5525, 17.74),
    (2.5555, 17.70), (2.5585, 17.72), (2.5615, 17.74), (2.5645, 17.70), (2.5675, 17.73), (2.5705, 17.71),
    (2.5735, 17.74), (2.5765, 17.70), (2.5795, 17.72), (2.5825, 17.74), (2.5855, 17.70), (2.5885, 17.73),
    (2.5915, 17.71), (2.5945, 17.74), (2.5975, 17.70), (2.6005, 17.72), (2.6035, 17.74), (2.6065, 17.71),
    (2.6105, 17.73),
    (2.540, 17.62), (2.543, 17.56), (2.546, 17.64), (2.549, 17.58), (2.552, 17.55), (2.555, 17.63),
    (2.558, 17.57), (2.561, 17.61), (2.564, 17.55), (2.567, 17.64), (2.570, 17.58), (2.573, 17.62),
    (2.576, 17.56), (2.579, 17.60), (2.582, 17.54), (2.585, 17.63), (2.588, 17.57), (2.591, 17.61),
    (2.594, 17.55), (2.597, 17.64), (2.600, 17.58), (2.603, 17.62), (2.606, 17.60), (2.609, 17.65),
    (2.5415, 17.47), (2.5445, 17.49), (2.5475, 17.45), (2.5505, 17.48), (2.5535, 17.46), (2.5565, 17.49),
    (2.5595, 17.45), (2.5625, 17.47), (2.5655, 17.49), (2.5685, 17.45), (2.5715, 17.48), (2.5745, 17.46),
    (2.5775, 17.49), (2.5805, 17.45), (2.5835, 17.47), (2.5865, 17.49), (2.5895, 17.45), (2.5925, 17.48),
    (2.5955, 17.46), (2.5985, 17.49), (2.6015, 17.45), (2.6055, 17.47),
    (2.543, 17.38), (2.546, 17.32), (2.549, 17.36), (2.552, 17.30), (2.555, 17.39), (2.558, 17.33),
    (2.561, 17.37), (2.564, 17.31), (2.567, 17.38), (2.570, 17.32), (2.573, 17.36), (2.576, 17.30),
    (2.579, 17.39), (2.582, 17.33), (2.585, 17.37), (2.588, 17.31), (2.591, 17.38), (2.594, 17.32),
    (2.597, 17.36), (2.600, 17.33), (2.603, 17.39),
    (2.5445, 17.22), (2.5475, 17.24), (2.5505, 17.20), (2.5535, 17.23), (2.5565, 17.21), (2.5595, 17.24),
    (2.5625, 17.20), (2.5655, 17.22), (2.5685, 17.24), (2.5715, 17.20), (2.5745, 17.23), (2.5775, 17.21),
    (2.5805, 17.24), (2.5835, 17.20), (2.5865, 17.22), (2.5895, 17.24), (2.5925, 17.20), (2.5955, 17.23),
    (2.5985, 17.21), (2.6015, 17.24),
    (2.546, 17.12), (2.549, 17.06), (2.552, 17.14), (2.556, 17.08), (2.560, 17.02), (2.564, 17.12),
    (2.568, 17.05), (2.572, 17.10), (2.576, 17.04), (2.580, 17.12), (2.584, 17.06), (2.588, 17.10),
    (2.592, 17.03), (2.596, 17.12), (2.599, 17.08),
    (2.5475, 16.97), (2.5505, 16.99), (2.5540, 16.95), (2.5580, 16.98), (2.5620, 16.96), (2.5660, 16.99),
    (2.5700, 16.95), (2.5740, 16.97), (2.5780, 16.99), (2.5820, 16.95), (2.5860, 16.98), (2.5900, 16.96),
    (2.5940, 16.99), (2.5975, 16.95),
    (2.549, 16.87), (2.553, 16.82), (2.557, 16.89), (2.562, 16.83), (2.567, 16.80), (2.572, 16.88),
    (2.577, 16.82), (2.582, 16.86), (2.587, 16.80), (2.592, 16.88), (2.596, 16.84),
    (2.555, 16.82), (2.557, 16.60), (2.560, 16.67), (2.564, 16.45), (2.566, 16.67), (2.570, 16.74),
    (2.574, 16.60), (2.577, 16.67), (2.581, 16.52), (2.584, 16.67), (2.588, 16.60), (2.591, 16.67),
    (2.593, 16.45), (2.556, 16.31), (2.559, 16.16), (2.562, 16.09), (2.566, 16.23), (2.569, 16.09),
    (2.572, 16.23), (2.575, 16.09), (2.578, 16.16), (2.582, 16.09), (2.585, 16.16), (2.588, 16.23),
    (2.591, 16.09), (2.558, 15.87), (2.561, 15.72), (2.564, 15.87), (2.567, 15.65), (2.570, 15.80),
    (2.575, 15.87), (2.578, 15.72), (2.581, 15.80), (2.584, 15.65), (2.587, 15.72), (2.589, 15.87),
    (2.561, 15.50), (2.563, 15.43), (2.566, 15.50), (2.570, 15.50), (2.581, 15.50), (2.584, 15.43),
    (2.586, 15.58), (2.568, 15.18), (2.574, 15.18), (2.576, 15.18), (2.582, 15.18), (2.566, 15.00),
    (2.567, 14.78), (2.568, 14.63), (2.569, 14.34), (2.570, 14.27), (2.568, 13.98), (2.579, 14.63),
    (2.579, 14.34), (2.582, 14.27), (2.581, 13.98), (2.583, 14.85), (2.584, 15.00), (2.562, 16.67),
    (2.552, 17.11), (2.594, 16.96), (2.598, 17.11), (2.5732, 11.67), (2.5773, 11.67),
]

# ---------------- T = 135 Myr (navy) ----------------
blue135_ecc = [
    (2.516, 0.1162), (2.519, 0.1173), (2.520, 0.1178), (2.521, 0.1175), (2.522, 0.1171), (2.523, 0.1169),
    (2.520, 0.1186), (2.522, 0.1197), (2.530, 0.1199), (2.536, 0.1199), (2.521, 0.1145), (2.528, 0.1147),
    (2.523, 0.1127), (2.524, 0.1125), (2.524, 0.1105), (2.525, 0.1096), (2.531, 0.1162), (2.537, 0.1149),
    (2.534, 0.1132), (2.537, 0.1125), (2.542, 0.1164), (2.543, 0.1112), (2.540, 0.1118), (2.547, 0.1101),
    (2.545, 0.1110), (2.550, 0.1094), (2.552, 0.1096), (2.554, 0.1090), (2.557, 0.1086),
    (2.532, 0.1075), (2.534, 0.1077), (2.537, 0.1088), (2.539, 0.1086), (2.542, 0.1090), (2.545, 0.1086),
    (2.548, 0.1083), (2.535, 0.1066), (2.537, 0.1070), (2.540, 0.1068), (2.543, 0.1066), (2.546, 0.1068),
    (2.549, 0.1070), (2.552, 0.1072), (2.555, 0.1075), (2.534, 0.1057), (2.537, 0.1059), (2.540, 0.1055),
    (2.543, 0.1059), (2.546, 0.1055), (2.549, 0.1057), (2.552, 0.1059), (2.535, 0.1048), (2.538, 0.1046),
    (2.542, 0.1048), (2.545, 0.1044), (2.548, 0.1046), (2.551, 0.1048), (2.554, 0.1046), (2.532, 0.1044),
    (2.524, 0.1046), (2.525, 0.1042), (2.524, 0.1037), (2.531, 0.1037), (2.537, 0.1037), (2.541, 0.1033),
    (2.546, 0.1035), (2.550, 0.1033), (2.553, 0.1035), (2.534, 0.1029), (2.539, 0.1024), (2.543, 0.1024),
    (2.547, 0.1029), (2.552, 0.1024), (2.536, 0.1018), (2.540, 0.1015), (2.544, 0.1011), (2.548, 0.1015),
    (2.533, 0.1011), (2.537, 0.1007), (2.542, 0.1002), (2.546, 0.1004), (2.551, 0.1009), (2.553, 0.1000),
    (2.535, 0.0998), (2.539, 0.0996), (2.544, 0.0993), (2.548, 0.0991), (2.536, 0.0985), (2.540, 0.0982),
    (2.545, 0.0987), (2.533, 0.0978), (2.537, 0.0976), (2.542, 0.0978), (2.546, 0.0980), (2.534, 0.0969),
    (2.539, 0.0967), (2.524, 0.0978), (2.526, 0.0969), (2.529, 0.0971), (2.525, 0.0963), (2.524, 0.0947),
    (2.525, 0.0936), (2.531, 0.0950), (2.535, 0.0945), (2.538, 0.0943), (2.540, 0.0941), (2.551, 0.0942),
    (2.530, 0.0928), (2.534, 0.0930), (2.523, 0.1044),
    (2.536, 0.1062), (2.539, 0.1074), (2.542, 0.1061), (2.545, 0.1072), (2.548, 0.1064), (2.551, 0.1063),
    (2.538, 0.1051), (2.541, 0.1043), (2.544, 0.1050), (2.547, 0.1041), (2.550, 0.1052), (2.539, 0.1033),
    (2.543, 0.1019), (2.547, 0.1022), (2.541, 0.1009),
    (2.556, 0.1066), (2.558, 0.1065), (2.559, 0.1067), (2.561, 0.1064), (2.562, 0.1066), (2.564, 0.1065),
    (2.565, 0.1067), (2.567, 0.1064), (2.568, 0.1066), (2.570, 0.1065), (2.571, 0.1067), (2.573, 0.1064),
    (2.574, 0.1066),
    (2.5755, 0.1062), (2.5758, 0.1069), (2.5772, 0.1065), (2.5778, 0.1072), (2.5790, 0.1060), (2.5795, 0.1067),
    (2.5810, 0.1063), (2.5815, 0.1070), (2.5828, 0.1058), (2.5832, 0.1066), (2.5848, 0.1062), (2.5852, 0.1069),
    (2.5868, 0.1065), (2.5870, 0.1073), (2.5885, 0.1060), (2.5890, 0.1067), (2.5905, 0.1063), (2.5910, 0.1070),
    (2.5925, 0.1058), (2.5930, 0.1066), (2.5945, 0.1062), (2.5950, 0.1069), (2.5965, 0.1065), (2.5970, 0.1072),
    (2.5985, 0.1060), (2.5990, 0.1067), (2.6005, 0.1063), (2.6010, 0.1070), (2.6025, 0.1059), (2.6030, 0.1066),
    (2.6045, 0.1062), (2.6050, 0.1069), (2.6065, 0.1064), (2.6070, 0.1071), (2.6085, 0.1060), (2.6090, 0.1067),
    (2.6105, 0.1063), (2.6110, 0.1070), (2.6125, 0.1061), (2.6130, 0.1068), (2.6145, 0.1064), (2.6150, 0.1072),
    (2.589, 0.1140), (2.599, 0.1121), (2.601, 0.1096), (2.595, 0.1090), (2.596, 0.1094), (2.583, 0.1083),
    (2.589, 0.1086), (2.607, 0.1094), (2.611, 0.1086), (2.604, 0.1081), (2.585, 0.1053), (2.591, 0.1053),
    (2.599, 0.1051), (2.607, 0.1055),
    (2.616, 0.1147), (2.618, 0.1154), (2.621, 0.1156), (2.622, 0.1164), (2.628, 0.1184), (2.633, 0.1187),
    (2.640, 0.1166), (2.643, 0.1179), (2.645, 0.1180), (2.647, 0.1189), (2.656, 0.1140), (2.616, 0.1127),
    (2.620, 0.1125), (2.623, 0.1127), (2.626, 0.1129), (2.630, 0.1134), (2.633, 0.1134), (2.636, 0.1132),
    (2.638, 0.1124), (2.644, 0.1125), (2.652, 0.1114), (2.651, 0.1110), (2.617, 0.1116), (2.620, 0.1114),
    (2.624, 0.1118), (2.627, 0.1114), (2.632, 0.1121), (2.635, 0.1107), (2.640, 0.1110), (2.645, 0.1105),
    (2.618, 0.1105), (2.621, 0.1101), (2.625, 0.1103), (2.628, 0.1099), (2.634, 0.1099), (2.638, 0.1101),
    (2.643, 0.1096), (2.648, 0.1094), (2.655, 0.1099), (2.619, 0.1090), (2.623, 0.1086), (2.627, 0.1088),
    (2.631, 0.1083), (2.636, 0.1088), (2.641, 0.1086), (2.645, 0.1081), (2.650, 0.1083), (2.656, 0.1086),
    (2.617, 0.1077), (2.621, 0.1077), (2.625, 0.1072), (2.630, 0.1075), (2.634, 0.1068), (2.638, 0.1072),
    (2.642, 0.1077), (2.646, 0.1070), (2.651, 0.1075), (2.655, 0.1066), (2.619, 0.1064), (2.623, 0.1061),
    (2.627, 0.1066), (2.631, 0.1059), (2.636, 0.1057), (2.640, 0.1061), (2.644, 0.1059), (2.648, 0.1055),
    (2.653, 0.1059), (2.656, 0.1053), (2.618, 0.1050), (2.622, 0.1048), (2.625, 0.1053), (2.628, 0.1046),
    (2.632, 0.1050), (2.637, 0.1048), (2.641, 0.1044), (2.645, 0.1048), (2.650, 0.1046), (2.654, 0.1042),
    (2.615, 0.1037), (2.619, 0.1035), (2.623, 0.1039), (2.627, 0.1033), (2.630, 0.1037), (2.634, 0.1031),
    (2.638, 0.1033), (2.643, 0.1029), (2.648, 0.1033), (2.653, 0.1026), (2.623, 0.1024), (2.627, 0.1020),
    (2.631, 0.1022), (2.636, 0.1018), (2.640, 0.1024), (2.645, 0.1020), (2.626, 0.1009), (2.633, 0.1007),
    (2.643, 0.1011), (2.649, 0.1002), (2.653, 0.1000), (2.656, 0.1013), (2.629, 0.0989), (2.638, 0.0987),
    (2.631, 0.0978), (2.636, 0.0961), (2.644, 0.1018), (2.625, 0.1081), (2.638, 0.1081), (2.648, 0.1066),
    (2.635, 0.1037), (2.620, 0.1024), (2.650, 0.1037), (2.628, 0.1057), (2.618, 0.1066), (2.633, 0.1044),
    (2.645, 0.1033),
    (2.620, 0.1070), (2.624, 0.1080), (2.629, 0.1064), (2.633, 0.1076), (2.637, 0.1062), (2.641, 0.1069),
    (2.646, 0.1075), (2.650, 0.1063), (2.654, 0.1072), (2.622, 0.1055), (2.626, 0.1040), (2.630, 0.1052),
    (2.635, 0.1043), (2.639, 0.1054), (2.643, 0.1040), (2.647, 0.1051), (2.652, 0.1034), (2.628, 0.1028),
    (2.637, 0.1026), (2.646, 0.1027),
]
blue135_sin = [
    (2.5214, 0.1931), (2.5255, 0.1929), (2.531, 0.1937), (2.531, 0.1930), (2.532, 0.1925), (2.5275, 0.1909),
    (2.535, 0.1910), (2.536, 0.1912), (2.537, 0.1915), (2.538, 0.1900), (2.535, 0.1896), (2.543, 0.1900),
    (2.542, 0.1895), (2.545, 0.1897), (2.533, 0.1900), (2.539, 0.1905), (2.543, 0.1907), (2.548, 0.1897),
    (2.549, 0.1891), (2.551, 0.1886), (2.513, 0.1841),
    (2.532, 0.1875), (2.534, 0.1881), (2.536, 0.1884), (2.538, 0.1878), (2.541, 0.1883), (2.544, 0.1881),
    (2.547, 0.1884), (2.550, 0.1881), (2.553, 0.1878), (2.535, 0.1871), (2.538, 0.1870), (2.541, 0.1873),
    (2.544, 0.1870), (2.547, 0.1873), (2.550, 0.1871), (2.554, 0.1871), (2.557, 0.1870), (2.534, 0.1865),
    (2.537, 0.1862), (2.540, 0.1865), (2.543, 0.1860), (2.546, 0.1863), (2.549, 0.1862), (2.552, 0.1865),
    (2.555, 0.1863), (2.531, 0.1853), (2.534, 0.1857), (2.537, 0.1853), (2.540, 0.1855), (2.543, 0.1852),
    (2.546, 0.1855), (2.549, 0.1852), (2.552, 0.1855), (2.534, 0.1849), (2.537, 0.1846), (2.540, 0.1847),
    (2.544, 0.1846), (2.548, 0.1847), (2.551, 0.1846), (2.535, 0.1839), (2.538, 0.1841), (2.542, 0.1838),
    (2.546, 0.1839), (2.549, 0.1836), (2.537, 0.1833), (2.539, 0.1829), (2.543, 0.1831), (2.547, 0.1833),
    (2.550, 0.1829), (2.535, 0.1825), (2.539, 0.1823), (2.544, 0.1825), (2.547, 0.1820), (2.534, 0.1820),
    (2.537, 0.1816), (2.533, 0.1883), (2.531, 0.1875), (2.530, 0.1853), (2.532, 0.1839), (2.527, 0.1810),
    (2.539, 0.1867), (2.545, 0.1876), (2.551, 0.1859), (2.542, 0.1851), (2.548, 0.1842), (2.536, 0.1858),
    (2.519, 0.1811), (2.515, 0.1805), (2.517, 0.1800), (2.523, 0.1802), (2.526, 0.1798), (2.529, 0.1811),
    (2.532, 0.1802), (2.537, 0.1803), (2.527, 0.1796), (2.524, 0.1791), (2.523, 0.1789), (2.526, 0.1787),
    (2.529, 0.1789), (2.521, 0.1784), (2.524, 0.1782), (2.527, 0.1782), (2.533, 0.1782), (2.513, 0.1777),
    (2.522, 0.1779), (2.525, 0.1776), (2.528, 0.1777), (2.516, 0.1768), (2.519, 0.1768), (2.523, 0.1769),
    (2.526, 0.1766), (2.530, 0.1765), (2.534, 0.1764), (2.525, 0.1762), (2.529, 0.1763),
    (2.555, 0.1867), (2.557, 0.1866), (2.558, 0.1868), (2.560, 0.1865), (2.561, 0.1867), (2.563, 0.1866),
    (2.564, 0.1868), (2.566, 0.1865), (2.567, 0.1867), (2.569, 0.1866), (2.570, 0.1868),
    (2.5715, 0.1863), (2.5720, 0.1870), (2.5735, 0.1866), (2.5740, 0.1872), (2.5755, 0.1862), (2.5760, 0.1868),
    (2.5775, 0.1865), (2.5780, 0.1871), (2.5795, 0.1863), (2.5800, 0.1869), (2.5815, 0.1866), (2.5820, 0.1872),
    (2.5835, 0.1862), (2.5840, 0.1868), (2.5855, 0.1865), (2.5860, 0.1871), (2.5875, 0.1863), (2.5880, 0.1869),
    (2.5895, 0.1866), (2.5900, 0.1872), (2.5915, 0.1862), (2.5920, 0.1868), (2.5935, 0.1865), (2.5940, 0.1871),
    (2.5955, 0.1863), (2.5960, 0.1869), (2.5975, 0.1866), (2.5980, 0.1872), (2.5995, 0.1862), (2.6000, 0.1868),
    (2.6015, 0.1865), (2.6020, 0.1871), (2.6035, 0.1863), (2.6040, 0.1869), (2.6055, 0.1866), (2.6060, 0.1872),
    (2.6075, 0.1862), (2.6080, 0.1868), (2.6095, 0.1865), (2.6100, 0.1871), (2.6115, 0.1861), (2.6120, 0.1868),
    (2.6135, 0.1864), (2.6140, 0.1873), (2.6155, 0.1860), (2.6160, 0.1867), (2.6175, 0.1863), (2.6180, 0.1870),
    (2.6195, 0.1858), (2.6200, 0.1866), (2.6215, 0.1862), (2.6230, 0.1856), (2.6240, 0.1868),
    (2.619, 0.1899), (2.621, 0.1891), (2.625, 0.1883), (2.626, 0.1880), (2.616, 0.1884), (2.617, 0.1881),
    (2.631, 0.1950), (2.636, 0.1943), (2.644, 0.1956), (2.647, 0.1939), (2.648, 0.1926), (2.635, 0.1910),
    (2.639, 0.1912), (2.633, 0.1905), (2.637, 0.1900), (2.643, 0.1889), (2.645, 0.1891), (2.651, 0.1895),
    (2.656, 0.1891), (2.632, 0.1891), (2.632, 0.1881), (2.636, 0.1875), (2.640, 0.1871), (2.643, 0.1873),
    (2.630, 0.1875), (2.650, 0.1881), (2.656, 0.1858), (2.648, 0.1863), (2.642, 0.1866), (2.625, 0.1871),
    (2.623, 0.1852), (2.626, 0.1849), (2.632, 0.1855), (2.636, 0.1853), (2.640, 0.1850), (2.644, 0.1852),
    (2.648, 0.1849), (2.652, 0.1850), (2.625, 0.1842), (2.629, 0.1839), (2.633, 0.1844), (2.638, 0.1841),
    (2.642, 0.1842), (2.646, 0.1839), (2.650, 0.1841), (2.655, 0.1836), (2.624, 0.1833), (2.627, 0.1829),
    (2.632, 0.1833), (2.636, 0.1829), (2.640, 0.1831), (2.644, 0.1828), (2.648, 0.1831), (2.653, 0.1828),
    (2.657, 0.1826), (2.625, 0.1823), (2.629, 0.1820), (2.633, 0.1821), (2.638, 0.1818), (2.642, 0.1820),
    (2.646, 0.1816), (2.650, 0.1820), (2.655, 0.1816), (2.626, 0.1813), (2.630, 0.1810), (2.634, 0.1811),
    (2.639, 0.1808), (2.643, 0.1810), (2.647, 0.1807), (2.651, 0.1810), (2.655, 0.1807), (2.627, 0.1802),
    (2.631, 0.1800), (2.636, 0.1803), (2.640, 0.1799), (2.644, 0.1800), (2.648, 0.1797), (2.652, 0.1799),
    (2.634, 0.1794), (2.639, 0.1792), (2.643, 0.1791), (2.647, 0.1789), (2.655, 0.1784), (2.625, 0.1778),
    (2.625, 0.1766), (2.628, 0.1836), (2.641, 0.1836), (2.651, 0.1834), (2.637, 0.1816), (2.645, 0.1813),
    (2.632, 0.1807), (2.641, 0.1795), (2.623, 0.1800), (2.626, 0.1792), (2.649, 0.1803), (2.657, 0.1800),
    (2.634, 0.1836), (2.645, 0.1824), (2.652, 0.1824),
]
blue135_mag = [
    (2.509, 18.10), (2.512, 18.06), (2.516, 18.11), (2.519, 18.05), (2.523, 18.10), (2.527, 18.07),
    (2.531, 18.12), (2.534, 18.05), (2.538, 18.10), (2.541, 18.07), (2.545, 18.11), (2.549, 18.05),
    (2.552, 18.10), (2.556, 18.06), (2.560, 18.12), (2.563, 18.05), (2.567, 18.10), (2.571, 18.07),
    (2.574, 18.11), (2.578, 18.05), (2.582, 18.10), (2.585, 18.06), (2.589, 18.12), (2.593, 18.05),
    (2.596, 18.10), (2.600, 18.07), (2.604, 18.11), (2.607, 18.05), (2.611, 18.10), (2.615, 18.06),
    (2.618, 18.12), (2.622, 18.05), (2.626, 18.10), (2.629, 18.07), (2.633, 18.11), (2.637, 18.05),
    (2.640, 18.10), (2.644, 18.06), (2.647, 18.12), (2.650, 18.08), (2.653, 18.11), (2.656, 18.13),
    (2.5105, 17.97), (2.5140, 17.99), (2.5178, 17.95), (2.5212, 17.98), (2.5250, 17.96), (2.5288, 17.99),
    (2.5325, 17.95), (2.5360, 17.97), (2.5397, 17.99), (2.5432, 17.95), (2.5470, 17.98), (2.5505, 17.96),
    (2.5540, 17.99), (2.5578, 17.95), (2.5615, 17.97), (2.5650, 17.99), (2.5688, 17.95), (2.5725, 17.98),
    (2.5760, 17.96), (2.5797, 17.99), (2.5835, 17.95), (2.5870, 17.97), (2.5905, 17.99), (2.5942, 17.95),
    (2.5980, 17.98), (2.6015, 17.96), (2.6052, 17.99), (2.6088, 17.95), (2.6125, 17.97), (2.6160, 17.99),
    (2.6198, 17.95), (2.6235, 17.98), (2.6270, 17.96), (2.6308, 17.99), (2.6345, 17.95), (2.6380, 17.97),
    (2.6418, 17.99), (2.6455, 17.96), (2.6490, 18.00), (2.6525, 18.02),
    (2.511, 17.88), (2.515, 17.82), (2.518, 17.90), (2.522, 17.84), (2.526, 17.80), (2.529, 17.89),
    (2.533, 17.83), (2.537, 17.87), (2.540, 17.81), (2.544, 17.90), (2.548, 17.84), (2.551, 17.88),
    (2.555, 17.82), (2.559, 17.86), (2.562, 17.80), (2.566, 17.89), (2.570, 17.83), (2.573, 17.87),
    (2.577, 17.81), (2.581, 17.90), (2.584, 17.84), (2.588, 17.88), (2.592, 17.82), (2.595, 17.86),
    (2.599, 17.80), (2.603, 17.89), (2.606, 17.83), (2.610, 17.87), (2.614, 17.81), (2.617, 17.90),
    (2.621, 17.84), (2.625, 17.88), (2.628, 17.82), (2.632, 17.86), (2.636, 17.84), (2.639, 17.89),
    (2.643, 17.85), (2.647, 17.92),
    (2.5118, 17.72), (2.5155, 17.74), (2.5192, 17.70), (2.5230, 17.73), (2.5268, 17.71), (2.5305, 17.74),
    (2.5342, 17.70), (2.5380, 17.72), (2.5418, 17.74), (2.5455, 17.70), (2.5492, 17.73), (2.5530, 17.71),
    (2.5568, 17.74), (2.5605, 17.70), (2.5642, 17.72), (2.5680, 17.74), (2.5718, 17.70), (2.5755, 17.73),
    (2.5792, 17.71), (2.5830, 17.74), (2.5868, 17.70), (2.5905, 17.72), (2.5942, 17.74), (2.5980, 17.70),
    (2.6018, 17.73), (2.6055, 17.71), (2.6092, 17.74), (2.6130, 17.70), (2.6168, 17.72), (2.6205, 17.74),
    (2.6242, 17.70), (2.6280, 17.73), (2.6318, 17.71), (2.6355, 17.74), (2.6392, 17.75), (2.6415, 17.78),
    (2.512, 17.62), (2.516, 17.56), (2.520, 17.64), (2.524, 17.58), (2.528, 17.55), (2.532, 17.63),
    (2.536, 17.57), (2.540, 17.61), (2.544, 17.55), (2.548, 17.64), (2.552, 17.58), (2.556, 17.62),
    (2.560, 17.56), (2.564, 17.60), (2.568, 17.54), (2.572, 17.63), (2.576, 17.57), (2.580, 17.61),
    (2.584, 17.55), (2.588, 17.64), (2.592, 17.58), (2.596, 17.62), (2.600, 17.56), (2.604, 17.60),
    (2.608, 17.55), (2.612, 17.63), (2.616, 17.57), (2.620, 17.61), (2.624, 17.58), (2.628, 17.64),
    (2.632, 17.60), (2.636, 17.66),
    (2.5135, 17.47), (2.5178, 17.49), (2.5220, 17.45), (2.5262, 17.48), (2.5305, 17.46), (2.5348, 17.49),
    (2.5390, 17.45), (2.5432, 17.47), (2.5475, 17.49), (2.5518, 17.45), (2.5560, 17.48), (2.5602, 17.46),
    (2.5645, 17.49), (2.5688, 17.45), (2.5730, 17.47), (2.5772, 17.49), (2.5815, 17.45), (2.5858, 17.48),
    (2.5900, 17.46), (2.5942, 17.49), (2.5985, 17.45), (2.6028, 17.47), (2.6070, 17.49), (2.6112, 17.45),
    (2.6155, 17.48), (2.6198, 17.46), (2.6240, 17.49), (2.6282, 17.47), (2.6325, 17.50),
    (2.515, 17.38), (2.519, 17.32), (2.523, 17.36), (2.528, 17.30), (2.533, 17.39), (2.538, 17.33),
    (2.543, 17.37), (2.547, 17.31), (2.552, 17.38), (2.557, 17.32), (2.562, 17.36), (2.567, 17.30),
    (2.572, 17.39), (2.577, 17.33), (2.582, 17.37), (2.586, 17.31), (2.591, 17.38), (2.596, 17.32),
    (2.601, 17.36), (2.606, 17.30), (2.611, 17.39), (2.616, 17.33), (2.621, 17.37), (2.626, 17.32),
    (2.631, 17.40),
    (2.5175, 17.22), (2.5225, 17.24), (2.5275, 17.20), (2.5325, 17.23), (2.5380, 17.21), (2.5440, 17.24),
    (2.5500, 17.20), (2.5565, 17.22), (2.5640, 17.24), (2.5715, 17.20), (2.5790, 17.23), (2.5865, 17.21),
    (2.5935, 17.24), (2.6005, 17.20), (2.6070, 17.22), (2.6130, 17.24), (2.6185, 17.20), (2.6240, 17.23),
    (2.6285, 17.25),
    (2.520, 17.12), (2.525, 17.06), (2.530, 17.14), (2.535, 17.08), (2.541, 17.02), (2.547, 17.12),
    (2.553, 17.05), (2.560, 17.10), (2.568, 17.04), (2.575, 17.12), (2.583, 17.06), (2.590, 17.10),
    (2.597, 17.03), (2.604, 17.12), (2.610, 17.06), (2.616, 17.10), (2.622, 17.05), (2.627, 17.13),
    (2.532, 16.67), (2.535, 16.45), (2.538, 16.59), (2.541, 16.38), (2.544, 16.67), (2.547, 16.45),
    (2.550, 16.23), (2.553, 16.52), (2.555, 16.16), (2.558, 16.30), (2.536, 16.16), (2.540, 16.01),
    (2.544, 15.87), (2.546, 15.65), (2.549, 15.57), (2.552, 15.72), (2.555, 15.50), (2.557, 15.36),
    (2.559, 15.14), (2.556, 14.92), (2.559, 14.77), (2.561, 14.48), (2.562, 13.97), (2.558, 14.26),
    (2.567, 16.38), (2.569, 16.16), (2.571, 16.45), (2.574, 16.38), (2.576, 16.59), (2.578, 16.38),
    (2.582, 16.38), (2.585, 16.59), (2.563, 16.08), (2.564, 15.87), (2.567, 15.72), (2.573, 15.79),
    (2.579, 15.72), (2.583, 15.79), (2.586, 15.72), (2.589, 15.87), (2.573, 15.18), (2.577, 15.18),
    (2.578, 15.18), (2.562, 15.36), (2.567, 14.77), (2.590, 15.36), (2.591, 15.06), (2.590, 14.77),
    (2.589, 14.55), (2.592, 14.48), (2.583, 14.70), (2.583, 14.34), (2.587, 13.97), (2.593, 15.65),
    (2.595, 15.50), (2.598, 16.08), (2.601, 15.94), (2.603, 15.65), (2.598, 16.45), (2.601, 16.67),
    (2.605, 16.52), (2.607, 16.30), (2.611, 16.59), (2.615, 16.74), (2.619, 16.89), (2.608, 16.96),
    (2.592, 16.59), (2.595, 16.81), (2.553, 16.74), (2.567, 16.81), (2.573, 16.89), (2.578, 16.81),
    (2.583, 16.81), (2.588, 16.81), (2.624, 17.03), (2.630, 17.18), (2.560, 16.96), (2.546, 16.96),
    (2.534, 16.96), (2.528, 17.10), (2.522, 17.32), (2.516, 17.47), (2.514, 17.62), (2.640, 17.69),
    (2.646, 17.83), (2.652, 17.98), (2.571, 11.67), (2.579, 11.67),
]

# ellipses (centre a, centre sin i, width, height) and their labels, T = 135 Myr
regions = ['A1', 'A2']
region_ellipses = [(2.5293, 0.1762, 0.0401, 0.0108), (2.6397, 0.18204, 0.0398, 0.00806)]
region_label_pos = [(2.5564, 0.17807), (2.6072, 0.18050)]

ylims = [(0.0929, 0.120), (0.1761, 0.1960), (10, 19)]
yticks = [[0.095, 0.100, 0.105, 0.110, 0.115, 0.120],
          [0.1775, 0.1800, 0.1825, 0.1850, 0.1875, 0.1900, 0.1925, 0.1950],
          list(range(10, 20))]
yfmt = ['%.3f', '%.4f', '%d']
ylabels = ['Proper eccentricity, $e_p$', 'Sine of proper inclination, $sin(i_p)$', 'Absolute magnitude, $H$']
ylabel_x = [-0.122, -0.144, -0.103]
xticks = [2.52, 2.54, 2.56, 2.58, 2.60, 2.62, 2.64, 2.66]

orange_sets = [orange_ecc, orange_sin, orange_mag]
blue_sets = [[blue5_ecc, blue5_sin, blue5_mag],
             [blue69_ecc, blue69_sin, blue69_mag],
             [blue135_ecc, blue135_sin, blue135_mag]]

serif = 'Liberation Serif'

fig, axes = plt.subplots(3, 3, figsize=(8.3, 6.64), dpi=100, sharex=True, sharey='row')
fig.subplots_adjust(left=0.0795, right=0.9795, top=0.9804, bottom=0.0512, wspace=0, hspace=0)

for c in range(3):
    for r in range(3):
        ax = axes[r][c]
        ox, oy = zip(*orange_sets[r])
        ax.scatter(ox, oy, s=12, c='darkorange', linewidths=0, zorder=2)
        bx, by = zip(*blue_sets[c][r])
        ax.scatter(bx, by, s=12, c='navy', linewidths=0, zorder=3)
        ax.set_xlim(2.508, 2.66)
        ax.set_ylim(*ylims[r])
        ax.set_yticks(yticks[r])
        ax.yaxis.set_major_formatter(matplotlib.ticker.FormatStrFormatter(yfmt[r]))
        ax.set_xticks(xticks)
        ax.xaxis.set_major_formatter(matplotlib.ticker.FormatStrFormatter('%.2f'))
        ax.tick_params(labelsize=6, length=3, width=0.6)
        ax.tick_params(axis='x', pad=2)
        for sp in ax.spines.values():
            sp.set_linewidth(1.6)
        if c == 0:
            ax.set_ylabel(ylabels[r], fontsize=10, family=serif)
            ax.yaxis.set_label_coords(ylabel_x[r], 0.5)
    axes[0][c].text([0.59, 0.60, 0.486][c], 0.835, times[c], transform=axes[0][c].transAxes,
                    ha='center', va='center', fontsize=10, family=serif)

# A1 / A2 regions
ax = axes[1][2]
for name, (xc, yc, w, h), (tx, ty) in zip(regions, region_ellipses, region_label_pos):
    ax.add_patch(Ellipse((xc, yc), w, h, fill=False, edgecolor='red', linewidth=1.3, zorder=4))
    ax.text(tx, ty, name, color='red', fontsize=14, family=serif, ha='center', va='center')

fig.text(0.53, 0.013, 'Proper semi-major axis, $a_p$ [au]', ha='center', va='center',
         fontsize=10, family=serif)

fig.savefig('out.png', dpi=100)
